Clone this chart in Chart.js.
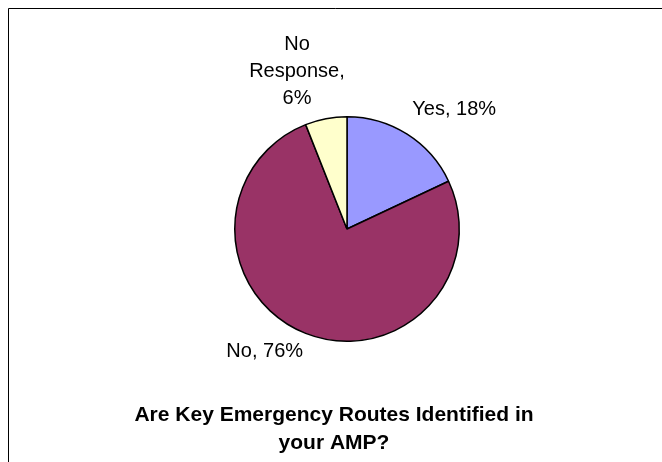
<!DOCTYPE html>
<html>
<head>
<meta charset="utf-8">
<script src="https://cdn.jsdelivr.net/npm/chart.js@4.4.1/dist/chart.umd.min.js"></script>
<style>
    html, body { margin: 0; padding: 0; background: #fff; }
    #wrap { width: 662px; height: 462px; position: relative; }
</style>
</head>
<body>
<div id="wrap"><canvas id="chart1" width="662" height="462"></canvas></div>
<script>
const categories = ['Yes', 'No', 'No Response'];
const percentages = [18, 76, 6];
const sliceColors = ['#9999FF', '#993366', '#FFFFCC'];
const titleLines = ['Are Key Emergency Routes Identified in', 'your AMP?'];

// label offsets from the slice's mid-angle edge point (style only)
const labelOffsets = [[47, -19], [-41, 24], [-29, -42]];

const framePlugin = {
    id: 'frame',
    beforeDraw(chart) {
        const c = chart.ctx;
        c.save();
        c.fillStyle = '#fff';
        c.fillRect(0, 0, chart.width, chart.height);
        c.strokeStyle = '#000';
        c.lineWidth = 1;
        c.beginPath();
        c.moveTo(8.5, chart.height);
        c.lineTo(8.5, 8.5);
        c.lineTo(chart.width, 8.5);
        c.stroke();
        c.restore();
    }
};

const labelPlugin = {
    id: 'sliceLabels',
    afterDraw(chart) {
        const c = chart.ctx;
        const arcs = chart.getDatasetMeta(0).data;
        c.save();
        c.fillStyle = '#000';
        c.font = '20px "Liberation Sans", Arial, sans-serif';
        c.textAlign = 'center';
        c.textBaseline = 'alphabetic';
        arcs.forEach((arc, i) => {
            const mid = (arc.startAngle + arc.endAngle) / 2;
            const ex = arc.x + Math.cos(mid) * arc.outerRadius;
            const ey = arc.y + Math.sin(mid) * arc.outerRadius;
            const x = ex + labelOffsets[i][0];
            const y = ey + labelOffsets[i][1];
            if (i === 2) {
                const lines = ['No', 'Response,', percentages[i] + '%'];
                lines.forEach((l, k) => c.fillText(l, x, y + (k - 1) * 27));
            } else {
                c.fillText(categories[i] + ', ' + percentages[i] + '%', x, y);
            }
        });
        c.font = 'bold 21px "Liberation Sans", Arial, sans-serif';
        c.textBaseline = 'middle';
        titleLines.forEach((l, k) => c.fillText(l, 334, 415 + k * 28));
        c.restore();
    }
};

new Chart(document.getElementById('chart1').getContext('2d'), {
    type: 'pie',
    data: {
        labels: categories,
        datasets: [{
            data: percentages,
            backgroundColor: sliceColors,
            borderColor: '#000',
            borderWidth: 1.5
        }]
    },
    options: {
        responsive: false,
        animation: false,
        layout: { padding: { top: 116, bottom: 120, left: 100, right: 68 } },
        plugins: {
            legend: { display: false },
            tooltip: { enabled: false },
            title: { display: false }
        }
    },
    plugins: [framePlugin, labelPlugin]
});
</script>
</body>
</html>
